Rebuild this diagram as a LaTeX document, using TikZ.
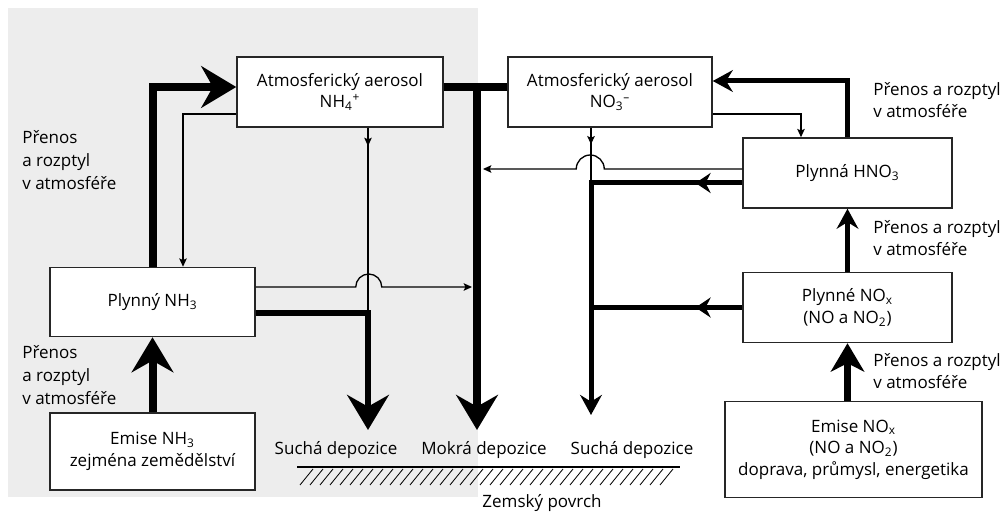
\documentclass[tikz,border=0pt]{standalone}
\usepackage{fontspec}
\setmainfont{Open Sans}
\usetikzlibrary{positioning,arrows.meta,calc,decorations.markings}
\definecolor{bggray}{HTML}{EDEDED}

\begin{document}
\begin{tikzpicture}[x=0.6pt,y=0.6pt,
  every node/.style={font=\fontsize{10.2}{13}\selectfont},
  box/.style={draw=black!85, line width=0.9pt, fill=white, align=center, inner sep=2pt},
  lbl/.style={align=left, anchor=west, inner sep=0pt, font=\fontsize{10.2}{13.6}\selectfont},
  mainline/.style={line width=4.8pt},
  maintip/.style={-{Stealth[length=21pt,width=25pt,inset=7pt]}},
  midline/.style={line width=3pt},
  midtip/.style={-{Stealth[length=12pt,width=13pt,inset=4pt]}},
  fineline/.style={line width=0.8pt},
  finetip/.style={-{Stealth[length=5pt,width=4.5pt,inset=1pt]}},
  markmid/.style={postaction=decorate, decoration={markings,
    mark=at position #1 with {\arrow{Stealth[length=9pt,width=12pt,inset=3pt]}}}},
  markfine/.style={postaction=decorate, decoration={markings,
    mark=at position #1 with {\arrow{Stealth[length=5pt,width=4.5pt,inset=1pt]}}}}]
\useasboundingbox (0,0) rectangle (1007,-513);
\fill[bggray] (8,-8) rectangle (478,-497);

\node[box, minimum width=123.6pt, minimum height=42pt] (nh4) at (340,-92) {Atmosferický aerosol\\NH\textsubscript{4}\textsuperscript{+}};
\node[box, minimum width=122.4pt, minimum height=42pt] (no3) at (610,-92) {Atmosferický aerosol\\NO\textsubscript{3}\textsuperscript{--}};
\node[box, minimum width=125.4pt, minimum height=42pt] (hno3) at (847.5,-173) {Plynná HNO\textsubscript{3}};
\node[box, minimum width=125.4pt, minimum height=42pt] (nox) at (847.5,-307.5) {Plynné NO\textsubscript{x}\\(NO a NO\textsubscript{2})};
\node[box, minimum width=154.2pt, minimum height=57.6pt] (enox) at (853.5,-449.5) {Emise NO\textsubscript{x}\\(NO a NO\textsubscript{2})\\doprava, průmysl, energetika};
\node[box, minimum width=123pt, minimum height=41.4pt] (nh3) at (152.5,-302) {Plynný NH\textsubscript{3}};
\node[box, minimum width=123pt, minimum height=46pt] (enh3) at (152.5,-451.5) {Emise NH\textsubscript{3}\\zejména zemědělství};

\node[lbl] (tl1) at (22,-160) {Přenos\\a rozptyl\\v atmosféře};
\node[lbl] (tl2) at (22,-375) {Přenos\\a rozptyl\\v atmosféře};
\node[lbl] (tr1) at (873,-100) {Přenos a rozptyl\\v atmosféře};
\node[lbl] (tr2) at (873,-238) {Přenos a rozptyl\\v atmosféře};
\node[lbl] (tr3) at (873,-371) {Přenos a rozptyl\\v atmosféře};

\node (dry1t) at (336,-450) {Suchá depozice};
\node (wett) at (484,-450) {Mokrá depozice};
\node (dry3t) at (632,-450) {Suchá depozice};
\node (surf) at (542,-503) {Zemský povrch};
\draw[line width=0.8pt] (297,-467) -- (680,-467);
\foreach \x in {300,310,...,665}
  \draw[line width=0.5pt] (\x,-485) -- (\x+13,-469);

\coordinate (wtop) at (477,-87);
\coordinate (wet) at (477,-430);
\coordinate (j1) at (368,-313);
\coordinate (dry1) at (368,-430);
\coordinate (j3) at (591,-183);
\coordinate (dry3) at (591,-415);
\coordinate (tipA) at (483,-169);
\coordinate (tipB) at (472,-287);

\draw[mainline, maintip] (nh3.north) |- ([yshift=3pt]nh4.west);
\draw[mainline] ([yshift=3pt]nh4.east) -- ([yshift=3pt]no3.west);
\draw[mainline, maintip] (wtop) -- (wet);
\draw[mainline, maintip] (enh3.north) -- (nh3.south);
\draw[mainline, maintip, line width=4pt] ([yshift=-6.6pt]nh3.east) -| (dry1);
\draw[fineline, markfine=11pt] (nh4.south -| j1) -- (j1);
\draw[fineline, finetip] ([yshift=-13.2pt]nh4.west) -| ([xshift=18.3pt]nh3.north);
\draw[fineline, finetip] ([yshift=9pt]nh3.east) -- ++(100,0) arc[start angle=180, end angle=0, radius=13] -- (tipB);

\draw[midline, midtip] (hno3.north) |- ([yshift=6.6pt]no3.east);
\draw[midline, midtip] (nox.north) -- (hno3.south);
\draw[line width=4.2pt, -{Stealth[length=17pt,width=20pt,inset=5pt]}] (enox.north -| nox.south) -- (nox.south);
\draw[midline, midtip, markmid=28pt] (hno3.west |- j3) -- (j3) -- (dry3);
\draw[midline, markmid=28pt] (nox.west) -- (nox.west -| j3);
\draw[fineline, markfine=10pt] (no3.south -| j3) -- (j3);
\draw[fineline, finetip] ([yshift=-13.2pt]no3.east) -| ([xshift=-27.9pt]hno3.north);
\draw[fineline, finetip] ([yshift=2.4pt]hno3.west) -- ++(-138,0) arc[start angle=0, end angle=180, radius=14] -- (tipA);
\end{tikzpicture}
\end{document}
